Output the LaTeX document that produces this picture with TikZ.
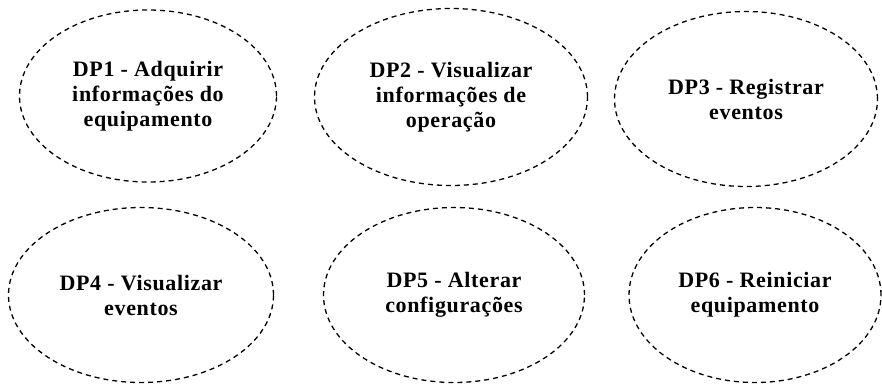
\documentclass[tikz,border=0pt]{standalone}
\usepackage{fontspec}
\setmainfont{Liberation Serif}
\newfontfamily\dpfont[LetterSpace=3]{Liberation Serif}
\usepackage{tikz}
\usetikzlibrary{shapes.geometric}

\begin{document}
\begin{tikzpicture}[
    x=1pt, y=-1pt,
    dp/.style={
        ellipse,
        draw=black,
        line width=1.3pt,
        dash pattern=on 5pt off 4pt,
        inner sep=0pt,
        align=center,
        font=\dpfont\bfseries\fontsize{22}{25}\selectfont
    }
]
\useasboundingbox (0,0) rectangle (882,383);
\node (dp1) [dp, minimum width=257pt, minimum height=172pt] at (148,96) {DP1 - Adquirir\\informações do\\equipamento};
\node (dp2) [dp, minimum width=273pt, minimum height=177pt] at (451,97) {DP2 - Visualizar\\informações de\\operação};
\node (dp3) [dp, minimum width=263pt, minimum height=175pt] at (746,99) {DP3 - Registrar\\eventos};
\node (dp4) [dp, minimum width=265pt, minimum height=175pt] at (141,295) {DP4 - Visualizar\\eventos};
\node (dp5) [dp, minimum width=261pt, minimum height=175pt] at (454,295) {DP5 - Alterar\\configurações};
\node (dp6) [dp, minimum width=252pt, minimum height=175pt] at (755,295) {DP6 - Reiniciar\\equipamento};
\end{tikzpicture}
\end{document}
